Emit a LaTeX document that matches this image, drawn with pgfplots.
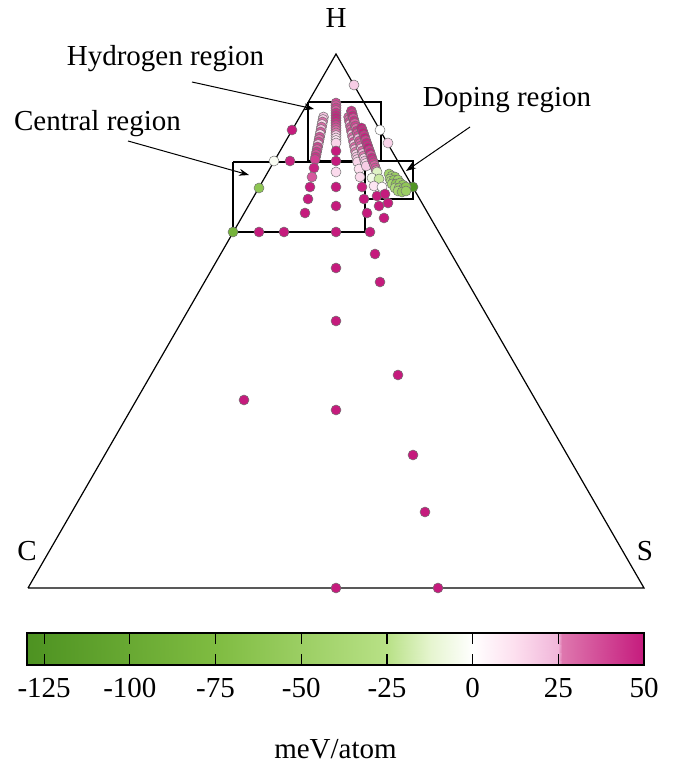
\documentclass[border=0pt]{standalone}
\usepackage{fontspec}
\setmainfont{Liberation Serif}
\usepackage{pgfplots}
\pgfplotsset{compat=1.18}
\usetikzlibrary{arrows.meta}
\pgfplotsset{colormap={piyg}{rgb255(0)=(77,146,33) rgb255(55)=(127,188,65) rgb255(105)=(184,225,134) rgb255(118)=(230,245,208) rgb255(130)=(255,255,255) rgb255(142)=(253,224,239) rgb255(155)=(241,182,218) rgb255(156)=(222,119,174) rgb255(180)=(197,27,125)}}
\newcommand\lbl{\fontsize{14.5}{17}\selectfont}
\pgfplotstableread{
x y v
292 130 50
290 161 48
274 161 -3
259 188 -62
233 232 -85
259 232 50
284 232 50
336 232 50
370 232 50
354 85 18
380 130 0
388 143 16
413 187 -125
336 268 50
336 321 50
336 410 50
336 588 50
438 588 50
244 400 50
375 254 50
380 282 50
398 375 50
413 455 50
425 512 50
336 103 38
336 105.5 35
336 108 40
336 110.5 33
336 113 44
336 115.5 47
336 118 49
336 120.5 48
336 123 45
336 125.5 40
336 128 36
336 130.5 30
336 133 26
336 135.5 20
336 138 14
336 140.5 10
336 143 16
336 151 50
336 161 50
336 172 14
336 187 50
336 206 50
323.5 117 22
323.0 119.5 18
322.5 122 28
322.0 124.5 14
321.5 127 30
321.1 129.5 22
320.6 132 34
320.1 134.5 14
319.6 137 36
319.1 139.5 26
318.6 142 38
318.1 144.5 20
317.6 147 40
317.1 149.5 32
316.6 152 42
316.1 154.5 36
315.6 157 44
315.1 159.5 40
314 168 48
312 177 34
310 187 50
308 199 50
305 213 50
348.6 117 34
349.1 119.5 28
349.6 122 38
350.1 124.5 20
350.6 127 34
351.1 129.5 26
351.6 132 38
352.1 134.5 16
352.6 137 32
353.1 139.5 24
353.6 142 36
354.1 144.5 18
354.6 147 30
355.1 149.5 22
355.6 152 26
356.1 154.5 16
356.6 157 22
357.1 159.5 18
357.6 162 15
359 169 12
360 177 14
362 187 48
364 199 50
367 213 50
351.4 111 45
352.1 113.5 42
352.7 116 48
353.4 118.5 36
354.1 121 45
354.8 123.5 32
355.4 126 40
356.1 128.5 28
356.8 131 43
357.4 133.5 34
358.1 136 38
358.8 138.5 24
359.5 141 36
360.2 143.5 30
360.8 146 33
361.5 148.5 20
362.2 151 30
362.8 153.5 24
363.5 156 26
364.2 158.5 16
364.9 161 22
365.6 163.5 14
366.2 166 18
361.5 128 49
362.4 130.5 46
363.3 133 50
364.1 135.5 43
365.0 138 49
365.8 140.5 40
366.7 143 47
367.6 145.5 45
368.4 148 50
369.3 150.5 42
370.2 153 48
371.0 155.5 36
371.9 158 46
372.7 160.5 43
373.6 163 40
374.5 165.5 32
375.3 168 36
376.2 170.5 28
377 172 -14
372 178 -6
379 179 -20
374 186 10
382 187 2
377 196 50
385 194 50
388 203 50
379 206 50
384 218 50
389 174 -45
392 176 -40
395 177 -50
390 179 -35
391 181 -30
394 180 -55
398 180 -45
392 184 -40
396 184 -60
400 183 -50
403 185 -55
395 188 -35
399 188 -50
403 189 -45
406 187 -60
398 191 -40
402 192 -55
406 191 -50
}\pts
\begin{document}
\begin{tikzpicture}
\begin{axis}[at={(0,0)}, anchor=south west, scale only axis, width=340pt, height=384.5pt,
  xmin=0, xmax=680, ymin=0, ymax=769, y dir=reverse, hide axis, clip=false,
  colormap name=piyg, point meta min=-130, point meta max=50]
\addplot[black, line width=0.6pt] coordinates {(28,588) (644,588) (336,54) (28,588)};
\addplot[black, line width=0.6pt] coordinates {(233,162) (365,162) (365,232) (233,232) (233,162)};
\addplot[black, line width=0.6pt] coordinates {(308,102) (381,102) (381,161) (308,161) (308,102)};
\addplot[black, line width=0.6pt] coordinates {(365,161) (413,161) (413,199) (365,199) (365,161)};
\addplot[scatter, only marks, mark=*, mark size=2.5pt,
  scatter/use mapped color={draw=black!55, fill=mapped color},
  mark options={line width=0.25pt}, point meta=explicit]
  table[x=x, y=y, meta=v] {\pts};
\draw[-{Stealth[length=5pt,width=3.5pt]}, line width=0.5pt] (axis cs:192,82) -- (axis cs:314,109);
\draw[-{Stealth[length=5pt,width=3.5pt]}, line width=0.5pt] (axis cs:128,141) -- (axis cs:249,175);
\draw[-{Stealth[length=5pt,width=3.5pt]}, line width=0.5pt] (axis cs:470,127) -- (axis cs:406,171);
\node[anchor=base, font=\lbl] at (axis cs:165.5,66) {Hydrogen region};
\node[anchor=base, font=\lbl] at (axis cs:97.5,131) {Central region};
\node[anchor=base, font=\lbl] at (axis cs:507,107) {Doping region};
\node[anchor=base, font=\lbl] at (axis cs:336,28) {H};
\node[anchor=base, font=\lbl] at (axis cs:27,560) {C};
\node[anchor=base, font=\lbl] at (axis cs:645,560) {S};
\end{axis}
\begin{axis}[at={(13.5pt,52pt)}, anchor=south west, scale only axis, width=308.5pt, height=16pt,
  xmin=-130, xmax=50, ymin=0, ymax=1, ytick=\empty, clip=false, axis on top,
  xtick={-125,-100,-75,-50,-25,0,25,50},
  xticklabels={-125,-100,-75,-50,-25,0,25,50},
  major tick length=5.3pt, tick style={black, line width=0.6pt},
  axis line style={line width=0.75pt},
  xticklabel style={font=\lbl, yshift=-3pt},
  colormap name=piyg, point meta min=-130, point meta max=50]
\addplot[surf, shader=interp, point meta=x, mesh/rows=2, mesh/cols=9] coordinates {
(-130,0) (-75,0) (-25,0) (-12,0) (0,0) (12,0) (25,0) (26,0) (50,0)
(-130,1) (-75,1) (-25,1) (-12,1) (0,1) (12,1) (25,1) (26,1) (50,1)
};
\node[anchor=base, font=\lbl] at (rel axis cs:0.5,0) [yshift=-46.5pt] {meV/atom};
\end{axis}
\path (0,0) rectangle (340pt,384.5pt);
\end{tikzpicture}
\end{document}
